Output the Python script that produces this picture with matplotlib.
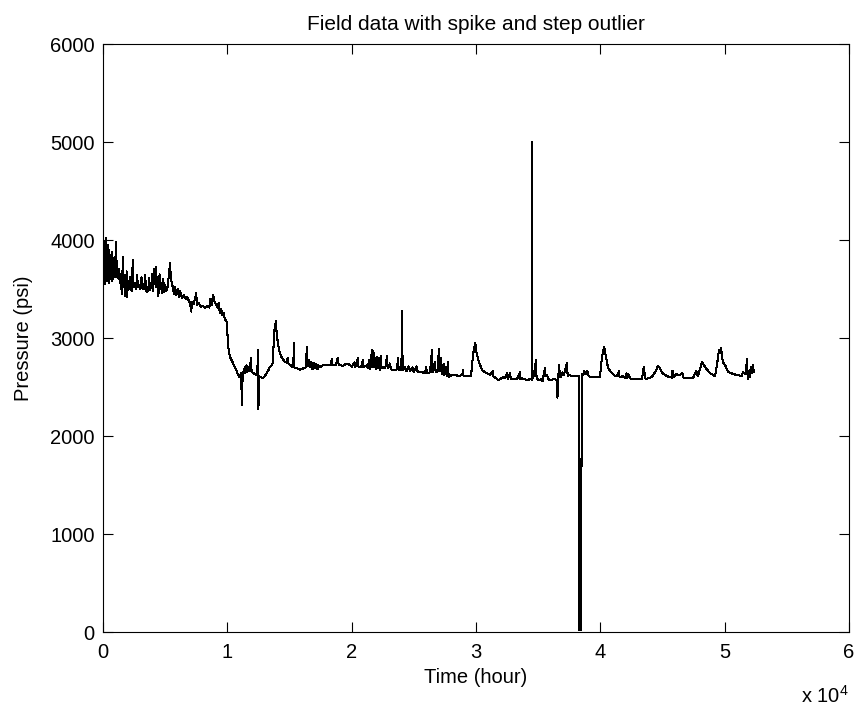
import matplotlib
matplotlib.use("Agg")
import matplotlib.pyplot as plt
import numpy as np

plt.rcParams['font.family'] = ['Liberation Sans', 'DejaVu Sans']
plt.rcParams['mathtext.fontset'] = 'custom'
plt.rcParams['mathtext.rm'] = 'Liberation Sans'

title_text = "Field data with spike and step outlier"
x_label = "Time (hour)"
y_label = "Pressure (psi)"
x_tick_values = [0, 10000, 20000, 30000, 40000, 50000, 60000]
x_tick_labels = ["0", "1", "2", "3", "4", "5", "6"]
y_tick_values = [0, 1000, 2000, 3000, 4000, 5000, 6000]
y_tick_labels = ["0", "1000", "2000", "3000", "4000", "5000", "6000"]

# early noisy period (hours, psi)
time_early = [0, 30, 60, 90, 120, 150, 180, 210, 240, 270, 300, 330, 360, 390, 420, 450,
              480, 510, 540, 570, 600, 630, 660, 690, 720, 750, 780, 810, 840, 870, 900,
              930, 960, 990, 1050, 1100, 1150, 1200, 1250, 1300, 1350, 1400, 1450, 1500,
              1550, 1600, 1650, 1700, 1750, 1800, 1850, 1900, 1950, 2000, 2100, 2200, 2300,
              2400, 2450, 2550, 2650, 2750, 2800, 2900, 3000, 3100, 3150, 3300, 3400, 3450,
              3550, 3650, 3700, 3800, 3900, 3950, 4000, 4100, 4150, 4250, 4300, 4400, 4450,
              4550, 4600, 4700, 4750, 4850, 4900, 5000, 5100, 5200, 5400, 5450, 5550, 5700,
              5800, 5900, 6000, 6100, 6200, 6350, 6500, 6650, 6750, 6900, 7000, 7100, 7150,
              7300, 7500, 7550, 7700, 7850, 8000, 8200, 8400, 8550, 8650, 8750, 8850, 8950,
              9050, 9200, 9300, 9400, 9500, 9600, 9700, 9800, 9900, 9970]
press_early = [3700, 4050, 3560, 3900, 3620, 3980, 3550, 3850, 3700, 4020, 3600, 3880, 3580,
               3950, 3650, 3820, 3560, 3900, 3680, 3750, 3600, 3850, 3620, 3800, 3580, 3880,
               3640, 3760, 3600, 3820, 3650, 3700, 3620, 3780, 3980, 3700, 3620, 3680, 3600,
               3700, 3560, 3650, 3500, 3680, 3450, 3830, 3520, 3640, 3430, 3600, 3500, 3680,
               3420, 3580, 3500, 3620, 3480, 3800, 3520, 3560, 3500, 3640, 3520, 3540, 3500,
               3620, 3510, 3500, 3640, 3480, 3470, 3500, 3610, 3490, 3560, 3650, 3480, 3700,
               3550, 3720, 3520, 3620, 3430, 3650, 3500, 3560, 3460, 3600, 3470, 3540, 3480,
               3520, 3770, 3600, 3560, 3450, 3520, 3440, 3500, 3420, 3480, 3410, 3440, 3400,
               3420, 3380, 3360, 3270, 3370, 3350, 3460, 3340, 3360, 3320, 3330, 3310, 3330,
               3310, 3400, 3340, 3440, 3380, 3350, 3310, 3360, 3250, 3300, 3230, 3260, 3190,
               3180, 3150]

# middle period after the drop
time_mid = [10050, 10200, 10450, 10700, 10860, 11000, 11100, 11180, 11230, 11300, 11400,
            11450, 11550, 11600, 11700, 11800, 11900, 11950, 12100, 12250, 12400, 12470,
            12500, 12550, 12700, 12850, 13000, 13150, 13300, 13400, 13550, 13670, 13750,
            13850, 13900, 13950, 14000, 14150, 14300, 14400, 14600, 14800, 14850, 14900,
            15100, 15300, 15360, 15400, 15600, 15850, 16100, 16300, 16400, 16450, 16550,
            16650, 16750, 16850, 16950, 17050, 17150, 17250, 17350, 17450, 17700, 18000,
            18300, 18400, 18450, 18700, 18900, 18950, 19300, 19600, 19870, 20000, 20200,
            20300, 20500, 20550, 20800, 20900, 20950, 21200, 21300, 21400, 21500, 21630,
            21680, 21750, 21800, 21880, 21950, 22050, 22100, 22200, 22250, 22350, 22400,
            22520, 22700, 22840, 22900, 23080, 23150, 23400, 23650, 23730, 23780, 24000,
            24050, 24100, 24300, 24400, 24550, 24700, 24900, 25000, 25200, 25300, 25500,
            25700, 25900, 26000, 26050, 26300, 26460, 26500, 26700, 26750, 26900, 27020,
            27070, 27200, 27250, 27400, 27450, 27600, 27650, 27750, 27800, 28000, 28300,
            28600, 28900, 28950, 29000, 29300, 29600, 29760, 29850, 29950, 30000, 30050,
            30240, 30480, 30700, 30890, 31100, 31370, 31400, 31600, 31770, 31950, 32170,
            32300, 32500, 32550, 32740, 32800, 32900, 33100, 33300, 33540, 33580, 33700,
            33900, 34100, 34340, 34480]
press_mid = [2930, 2810, 2745, 2680, 2620, 2600, 2640, 2320, 2630, 2660, 2700, 2640, 2720,
             2650, 2700, 2660, 2800, 2660, 2640, 2630, 2620, 2880, 2270, 2610, 2600, 2590,
             2610, 2640, 2670, 2700, 2720, 2745, 3050, 3120, 3170, 3080, 3010, 2880, 2820,
             2795, 2760, 2745, 2800, 2740, 2720, 2700, 2950, 2700, 2690, 2675, 2690, 2700,
             2910, 2710, 2780, 2700, 2760, 2680, 2750, 2690, 2740, 2680, 2720, 2700, 2725,
             2720, 2725, 2785, 2720, 2720, 2800, 2730, 2715, 2740, 2725, 2705, 2750, 2705,
             2795, 2705, 2710, 2780, 2705, 2720, 2690, 2780, 2680, 2880, 2700, 2870, 2700,
             2800, 2680, 2810, 2690, 2800, 2675, 2820, 2690, 2700, 2690, 2815, 2690, 2740,
             2680, 2670, 2680, 2795, 2670, 2670, 3275, 2670, 2700, 2660, 2710, 2660, 2700,
             2650, 2710, 2660, 2650, 2650, 2640, 2700, 2640, 2650, 2880, 2650, 2760, 2660,
             2650, 2890, 2660, 2800, 2630, 2740, 2620, 2700, 2610, 2755, 2600, 2620, 2620,
             2615, 2620, 2675, 2610, 2610, 2610, 2825, 2900, 2950, 2880, 2845, 2755, 2675,
             2650, 2640, 2625, 2660, 2610, 2590, 2570, 2580, 2600, 2590, 2640, 2580, 2640,
             2585, 2580, 2585, 2580, 2650, 2580, 2590, 2580, 2570, 2580, 2575]

# spike outlier, step outlier and late period
time_late = [34500, 34520, 34660, 34820, 34870, 35000, 35300, 35350, 35550, 35600, 35700,
             35870, 36100, 36300, 36500, 36550, 36600, 36680, 36750, 36850, 36950, 37050,
             37320, 37370, 37500, 37800, 38120, 38250, 38300, 38420, 38470, 38520, 38600,
             38700, 38800, 38950, 39050, 39170, 39500, 39970, 40130, 40300, 40450, 40620,
             40940, 41100, 41340, 41500, 41550, 41820, 41980, 42100, 42150, 42250, 42390,
             42550, 43350, 43430, 43500, 43580, 43650, 44000, 44200, 44450, 44640, 44800,
             45000, 45360, 45760, 45800, 45900, 46100, 46400, 46600, 46700, 47450, 47700,
             47850, 48180, 48450, 48820, 49000, 49220, 49350, 49450, 49540, 49600, 49700,
             49800, 49850, 50030, 50270, 50550, 51000, 51400, 51450, 51650, 51700, 51800,
             51850, 51950, 52000, 52100, 52200, 52280, 52350]
press_late = [5000, 2580, 2620, 2775, 2600, 2570, 2580, 2560, 2695, 2610, 2620, 2570, 2575,
              2580, 2570, 2390, 2570, 2725, 2600, 2610, 2650, 2620, 2745, 2610, 2620, 2610,
              2610, 2610, 20, 20, 1310, 2630, 2620, 2660, 2630, 2660, 2620, 2600, 2600, 2600,
              2805, 2910, 2810, 2695, 2640, 2620, 2610, 2660, 2600, 2610, 2590, 2640, 2590,
              2630, 2590, 2580, 2580, 2655, 2705, 2620, 2580, 2595, 2610, 2660, 2715, 2690,
              2640, 2610, 2595, 2665, 2600, 2630, 2620, 2645, 2590, 2590, 2665, 2610, 2755,
              2700, 2640, 2630, 2610, 2700, 2790, 2880, 2850, 2900, 2800, 2755, 2725, 2655,
              2640, 2620, 2615, 2650, 2630, 2660, 2785, 2580, 2660, 2600, 2700, 2640, 2720,
              2650]

time = np.array(time_early + time_mid + time_late, dtype=float)
pressure = np.array(press_early + press_mid + press_late, dtype=float)

W, H = 859, 713
fig = plt.figure(figsize=(W / 100, H / 100), dpi=100)
ax = fig.add_axes([103 / W, (H - 632) / H, (849 - 103) / W, (632 - 44) / H])

ax.plot(time, pressure, color='black', linewidth=0.75, antialiased=False)

ax.set_xlim(0, 60000)
ax.set_ylim(0, 6000)
ax.set_xticks(x_tick_values)
ax.set_xticklabels(x_tick_labels)
ax.set_yticks(y_tick_values)
ax.set_yticklabels(y_tick_labels)

fs = 14.5
ax.tick_params(direction='in', length=7, width=0.8, top=True, right=True,
               labelsize=fs, colors='black', pad=8)
ax.tick_params(axis='y', pad=6)
for s in ax.spines.values():
    s.set_linewidth(0.8)
    s.set_color('black')

ax.set_title(title_text, fontsize=15, pad=10)
ax.set_xlabel(x_label, fontsize=fs, labelpad=4)
ax.set_ylabel(y_label, fontsize=fs, labelpad=12)
fig.text(849 / W, 1 - 696 / H, r"x 10$^{4}$", fontsize=fs, ha='right', va='center')

fig.savefig("out.png", dpi=100, facecolor='white')
